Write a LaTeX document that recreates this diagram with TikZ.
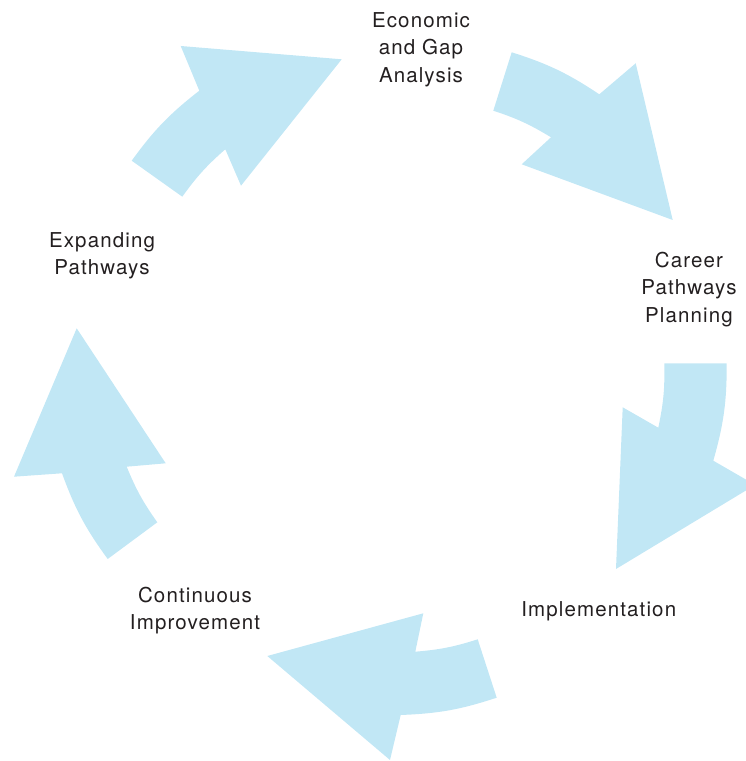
\documentclass[tikz,border=0pt]{standalone}
\usepackage{fontspec}
\newfontfamily\stagefont[LetterSpace=5.5]{TeX Gyre Heros}
\definecolor{arrowblue}{HTML}{C1E7F5}
\definecolor{labelgrey}{HTML}{231F20}
\tikzset{
  arrow fill/.style={fill=arrowblue,draw=none},
  outer bend/.style={bend left=8},
  inner bend/.style={bend right=6.5},
  stage/.style={font=\stagefont\fontsize{20.5}{27.7}\selectfont,align=center,text=labelgrey,anchor=base,inner sep=0pt}
}
\newcommand{\stagearrow}[7]{
  \fill[arrow fill] #1 to[outer bend] #2 -- #3 -- #4 -- #5 -- #6 to[inner bend] #7 -- cycle;
}

\begin{document}
\begin{tikzpicture}[x=1pt,y=1pt]
    \useasboundingbox (0,0) rectangle (746,761);
    \clip (0,0) rectangle (746,761);
    \stagearrow{(131.7,600.3)}{(199.3,670.3)}{(180.7,715)}{(341.7,701.7)}{(241,575.3)}{(225.3,611.7)}{(182.3,564.3)}
    \stagearrow{(511.7,708.7)}{(599.3,666.7)}{(635.7,697.7)}{(672.7,541)}{(521.7,596.7)}{(551,623.7)}{(493.3,650.3)}
    \stagearrow{(726.7,397.7)}{(713.3,300.3)}{(755.2,276.1)}{(616,192)}{(622.7,353.7)}{(658.3,333.3)}{(664.3,397.7)}
    \stagearrow{(496.7,63.3)}{(400.7,46)}{(390,1)}{(267.3,105)}{(423.3,147.7)}{(415.3,109.3)}{(477.7,121.7)}
    \stagearrow{(107.7,202)}{(62,287.7)}{(14,284.3)}{(76.7,432.7)}{(165.7,297.7)}{(126.7,294.3)}{(157.3,238.7)}
    \node[stage] (economic) at (421,678.3) {Economic\\and Gap\\Analysis};
    \node[stage] (career) at (689,438.3) {Career\\Pathways\\Planning};
    \node[stage] (implementation) at (598.7,144.3) {Implementation};
    \node[stage] (improvement) at (195,131) {Continuous\\Improvement};
    \node[stage] (expanding) at (102,486) {Expanding\\Pathways};
\end{tikzpicture}
\end{document}
